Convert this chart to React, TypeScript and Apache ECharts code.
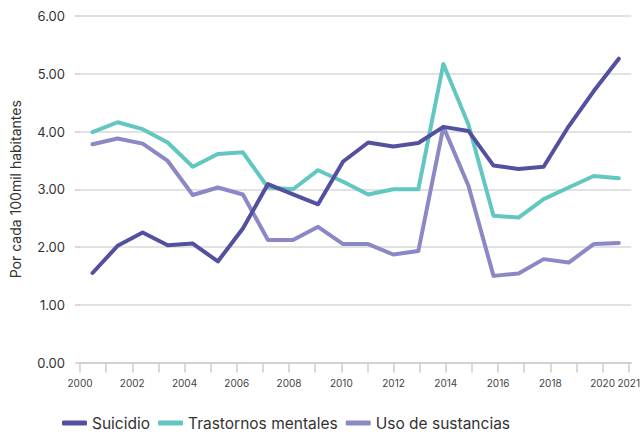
import React, { useEffect, useRef } from "react";
import * as echarts from "echarts";

const years = [
  "2000", "2001", "2002", "2003", "2004", "2005", "2006", "2007", "2008", "2009", "2010",
  "2011", "2012", "2013", "2014", "2015", "2016", "2017", "2018", "2019", "2020", "2021",
];

const suicidio = [
  1.55, 2.02, 2.25, 2.03, 2.06, 1.75, 2.32, 3.09, 2.91, 2.74, 3.48,
  3.81, 3.74, 3.8, 4.08, 4.01, 3.41, 3.35, 3.39, 4.09, 4.7, 5.26,
];

const trastornos = [
  3.99, 4.16, 4.04, 3.81, 3.39, 3.61, 3.64, 3.03, 3.0, 3.33, 3.13,
  2.91, 3.0, 3.0, 5.17, 4.12, 2.54, 2.51, 2.83, 3.03, 3.23, 3.19,
];

const sustancias = [
  3.78, 3.88, 3.79, 3.49, 2.9, 3.03, 2.91, 2.12, 2.12, 2.35, 2.05,
  2.05, 1.87, 1.93, 4.08, 3.06, 1.5, 1.54, 1.79, 1.73, 2.05, 2.07,
];

const tickYears = [
  2000, 2001, 2002, 2003, 2004, 2005, 2006, 2007, 2008, 2009, 2010,
  2011, 2012, 2013, 2014, 2015, 2016, 2017, 2018, 2019, 2020, 2021,
];
const labelYears = [2000, 2002, 2004, 2006, 2008, 2010, 2012, 2014, 2016, 2018, 2020, 2021];

const seriesNames = ["Suicidio", "Trastornos mentales", "Uso de sustancias"];
const colors = ["#5450A0", "#62C7C1", "#8C87C5"];

const FONT = "Inter, 'Noto Sans', sans-serif";

export default function App() {
  const ref = useRef<HTMLDivElement>(null);

  useEffect(() => {
    if (!ref.current) return;
    const chart = echarts.init(ref.current, null, { renderer: "svg" });
    const dataSets = [suicidio, trastornos, sustancias];
    chart.setOption({
      animation: false,
      backgroundColor: "#ffffff",
      textStyle: { fontFamily: FONT },
      grid: { left: 77.4, right: 11.4, top: 16, bottom: 72.5, containLabel: false },
      legend: {
        left: 62,
        top: 415,
        padding: 0,
        icon: "roundRect",
        itemWidth: 25,
        itemHeight: 5,
        itemGap: 8,
        textStyle: { fontSize: 15.5, color: "#333333", fontFamily: FONT },
        data: seriesNames,
      },
      xAxis: [
        {
          type: "category",
          data: years,
          boundaryGap: true,
          show: false,
        },
        {
          type: "value",
          min: 2000,
          max: 2021.1,
          position: "bottom",
          axisLine: { show: true, lineStyle: { color: "#cccccc", width: 1.5 } },
          axisTick: {
            show: true,
            length: 10,
            customValues: tickYears,
            lineStyle: { color: "#cccccc", width: 1.5 },
          },
          axisLabel: {
            customValues: labelYears,
            formatter: (v: number) => String(Math.round(v)),
            fontSize: 10,
            color: "#444444",
            margin: 15,
            fontFamily: FONT,
          },
          splitLine: { show: false },
        },
      ],
      yAxis: {
        type: "value",
        min: 0,
        max: 6,
        interval: 1,
        name: "Por cada 100mil habitantes",
        nameLocation: "middle",
        nameGap: 58,
        nameTextStyle: { fontSize: 14, color: "#333333", fontFamily: FONT },
        axisLine: { show: false },
        axisTick: { show: true, length: 5, lineStyle: { color: "#cccccc", width: 1.5 } },
        axisLabel: {
          formatter: (v: number) => v.toFixed(2),
          fontSize: 13,
          color: "#333333",
          margin: 15,
          fontFamily: FONT,
        },
        splitLine: { show: true, lineStyle: { color: "#d9d9d9", width: 1.5 } },
      },
      series: dataSets.map((d, i) => ({
        name: seriesNames[i],
        type: "line",
        xAxisIndex: 0,
        data: d,
        symbol: "none",
        showSymbol: false,
        color: colors[i],
        lineStyle: { width: 4, color: colors[i], cap: "round", join: "round" },
        z: 3 - i,
      })),
    });
    return () => chart.dispose();
  }, []);

  return (
    <div
      ref={ref}
      style={{ position: "fixed", left: 0, top: 0, width: 643, height: 435 }}
    />
  );
}
